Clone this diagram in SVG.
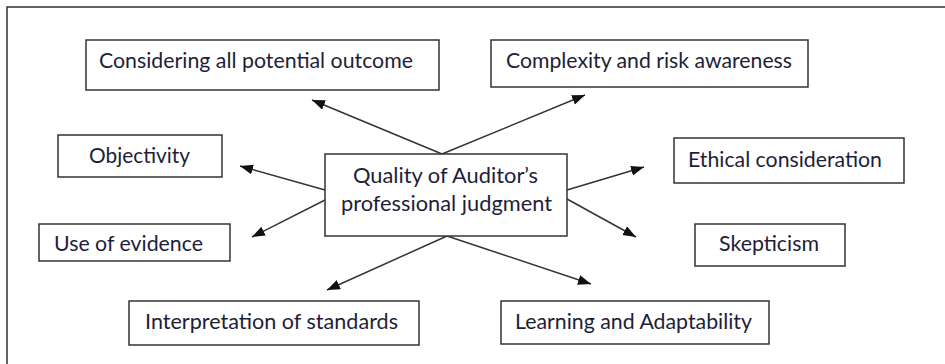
<svg xmlns="http://www.w3.org/2000/svg" width="945" height="364" viewBox="0 0 945 364">
<style>
.box{fill:#fff;stroke:#333;stroke-width:1.5}
.t{font-family:Lato,"Open Sans","Liberation Sans",sans-serif;font-size:20.5px;fill:#1e1e38}
.c{fill:none;stroke:#333;stroke-width:1.5;marker-end:url(#ah)}
</style>
<defs>
<marker id="ah" markerUnits="userSpaceOnUse" markerWidth="14" markerHeight="12" refX="13" refY="5" orient="auto">
<path d="M0,0 L13,5 L0,10 Z" fill="#111"/>
</marker>
</defs>
<rect x="0" y="0" width="945" height="364" fill="#fff"/>
<rect x="7" y="7" width="960" height="380" fill="none" stroke="#333" stroke-width="1.5"/>
<g id="connectors">
<line class="c" x1="442" y1="154" x2="312" y2="100"/>
<line class="c" x1="442" y1="154" x2="585" y2="95"/>
<line class="c" x1="325" y1="190" x2="240" y2="166"/>
<line class="c" x1="325" y1="200" x2="252" y2="237"/>
<line class="c" x1="447" y1="236" x2="327" y2="290"/>
<line class="c" x1="447" y1="236" x2="591" y2="284"/>
<line class="c" x1="567" y1="190" x2="644" y2="167"/>
<line class="c" x1="567" y1="199" x2="636" y2="237"/>
</g>
<g id="center">
<rect class="box" x="325" y="154" width="242" height="82"/>
<text class="t" x="353" y="183" textLength="185" lengthAdjust="spacingAndGlyphs">Quality of Auditor’s</text>
<text class="t" x="341" y="211" textLength="211" lengthAdjust="spacingAndGlyphs">professional judgment</text>
</g>
<g id="considering">
<rect class="box" x="86" y="40" width="353" height="50"/>
<text class="t" x="99" y="68" textLength="314" lengthAdjust="spacingAndGlyphs">Considering all potential outcome</text>
</g>
<g id="complexity">
<rect class="box" x="491" y="40" width="317" height="47"/>
<text class="t" x="506" y="68" textLength="286" lengthAdjust="spacingAndGlyphs">Complexity and risk awareness</text>
</g>
<g id="objectivity">
<rect class="box" x="58" y="135" width="164" height="42"/>
<text class="t" x="89" y="163" textLength="101" lengthAdjust="spacingAndGlyphs">Objectivity</text>
</g>
<g id="ethical">
<rect class="box" x="674" y="138" width="230" height="45"/>
<text class="t" x="688" y="167" textLength="194" lengthAdjust="spacingAndGlyphs">Ethical consideration</text>
</g>
<g id="evidence">
<rect class="box" x="39" y="224" width="191" height="37"/>
<text class="t" x="54" y="251" textLength="149" lengthAdjust="spacingAndGlyphs">Use of evidence</text>
</g>
<g id="skepticism">
<rect class="box" x="695" y="224" width="150" height="42"/>
<text class="t" x="719" y="251" textLength="100" lengthAdjust="spacingAndGlyphs">Skepticism</text>
</g>
<g id="interpretation">
<rect class="box" x="129" y="301" width="290" height="44"/>
<text class="t" x="145" y="329" textLength="253" lengthAdjust="spacingAndGlyphs">Interpretation of standards</text>
</g>
<g id="learning">
<rect class="box" x="501" y="301" width="268" height="43"/>
<text class="t" x="515" y="329" textLength="237" lengthAdjust="spacingAndGlyphs">Learning and Adaptability</text>
</g>
</svg>
